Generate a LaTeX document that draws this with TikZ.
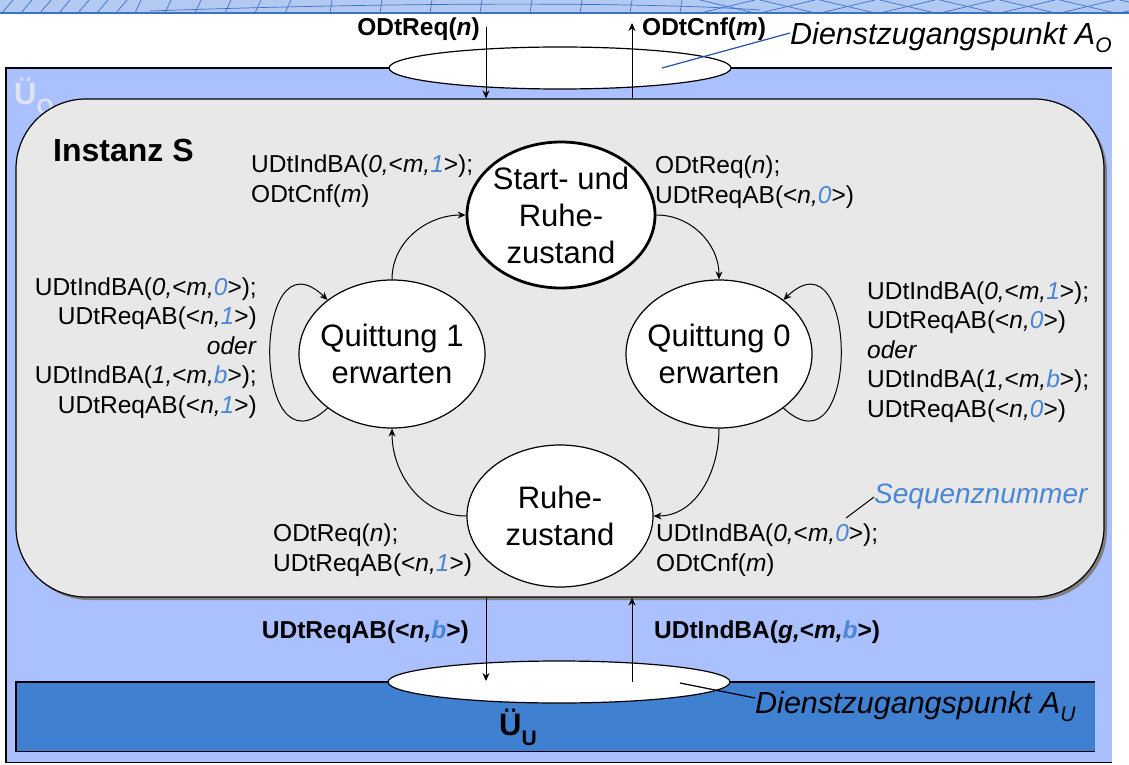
\documentclass[tikz,border=0pt]{standalone}
\usepackage{fontspec}
\setmainfont{Liberation Sans}
\usetikzlibrary{shapes.geometric,arrows.meta,positioning,shadows}

\definecolor{uoblue}{RGB}{170,192,255}
\definecolor{uublue}{RGB}{64,128,208}
\definecolor{instgray}{RGB}{232,232,232}
\definecolor{seqblue}{RGB}{74,134,214}
\definecolor{bandblue}{RGB}{178,202,242}
\definecolor{gridblue}{RGB}{62,112,200}
\definecolor{uolabel}{RGB}{222,228,238}
\definecolor{leaderblue}{RGB}{40,80,170}

\newcommand{\seqnr}[1]{\textcolor{seqblue}{\textit{#1}}}

\tikzset{
  every node/.style={
    font=\fontsize{24.5}{29.5}\selectfont,
    inner sep=0pt
  },
  zustand/.style={
    shape=ellipse,
    draw,
    line width=1.2pt,
    fill=white,
    minimum width=186pt,
    minimum height=148pt
  },
  startzustand/.style={
    zustand,
    line width=2.8pt,
    minimum width=188pt,
    minimum height=146pt
  },
  zustandtext/.style={
    align=center,
    font=\fontsize{31}{37}\selectfont
  },
  instanzbox/.style={
    shape=rectangle,
    rounded corners=70pt,
    draw,
    line width=1.2pt,
    fill=instgray,
    minimum width=1088pt,
    minimum height=498pt,
    drop shadow={shadow xshift=3pt,shadow yshift=-3pt,fill=black!50,opacity=1}
  },
  sap/.style={
    shape=ellipse,
    draw,
    line width=1.2pt,
    fill=white,
    minimum width=342pt,
    minimum height=42pt
  },
  trans/.style={
    -{Stealth[length=8pt,width=7pt]},
    line width=1pt
  },
  iflabel/.style={
    font=\fontsize{24.5}{29.5}\selectfont\bfseries
  },
  saplabel/.style={
    font=\fontsize{30.5}{36}\selectfont\itshape
  },
  schichtlabel/.style={
    font=\fontsize{31}{34}\selectfont\bfseries
  },
  grid/.style={
    draw=gridblue,
    line width=0.7pt
  }
}

\begin{document}
\begin{tikzpicture}[x=1pt,y=1pt]
\useasboundingbox (0,0) rectangle (1129,-765);
\fill[white] (0,0) rectangle (1129,-765);

\fill[bandblue] (0,0) rectangle (1129,-13);
\foreach \x in {2,21,...,120} \draw[grid] (\x,-13) -- ++(11,13);
\foreach \x in {135,165,...,310} \draw[grid] (\x,-13) -- ++(6,13);
\foreach \x in {330,380,...,700} \draw[grid] (\x,-13) -- ++(2,13);
\foreach \x in {700,760,...,1120} {
  \draw[grid] (\x,-13) -- ++(55,13);
  \draw[grid] (\x,0) -- ++(55,-13);
}
\draw[grid] (150,-11) .. controls (400,-2) and (650,-2) .. (760,-10);
\draw[gridblue,line width=1.2pt] (0,-13) -- (1129,-13);

\node[fill=uoblue, minimum width=1106pt, minimum height=694pt, anchor=north west] (uo) at (6,-68) {};
\draw[line width=1.2pt] (uo.north east) -- (uo.north west) -- (uo.south west) -- (uo.south east);
\node[schichtlabel, text=uolabel, anchor=west] (uolabel) at (14,-96) {Ü\raisebox{-10pt}{\fontsize{22}{22}\selectfont O}};

\node[instanzbox] (instanz) at (560,-348) {};
\node[font=\fontsize{32}{36}\selectfont\bfseries, anchor=west] (instlabel) at (53,-150) {Instanz S};

\node[fill=uublue, minimum width=1079pt, minimum height=69pt, anchor=north west] (uu) at (16,-682) {};
\draw[line width=1.2pt] (uu.north east) -- (uu.north west) -- (uu.south west) -- (uu.south east);
\node[schichtlabel] (uulabel) at (518,-727) {Ü\raisebox{-10pt}{\fontsize{21}{21}\selectfont U}};

\node[sap] (ao) at (560,-68) {};
\node[sap] (au) at (559,-682) {};

\node[saplabel, anchor=west] (dao) at (790,-38) {Dienstzugangspunkt A\raisebox{-8pt}{\fontsize{21}{21}\selectfont O}};
\node[saplabel, anchor=west] (dau) at (755,-707) {Dienstzugangspunkt A\raisebox{-8pt}{\fontsize{21}{21}\selectfont U}};
\coordinate (aotip) at (662,-68);
\coordinate (autip) at (680,-683);
\draw[leaderblue, line width=1.2pt] (aotip) -- ([yshift=5pt]dao.west);
\draw[line width=1.2pt] (autip) -- ([yshift=9pt]dau.west);

\node[startzustand, label={[zustandtext]center:Start- und\\Ruhe-\\zustand}] (start) at (561,-215) {};
\node[zustand, label={[zustandtext]center:Quittung 1\\erwarten}] (q1) at (392,-354) {};
\node[zustand, label={[zustandtext]center:Quittung 0\\erwarten}] (q0) at (719,-354) {};
\node[zustand, minimum height=142pt, label={[zustandtext]center:Ruhe-\\zustand}] (ruhe) at (560,-516) {};

\draw[trans] (q1.north) to[out=90,in=180] (start.west);
\draw[trans] (start.east) to[out=0,in=90] (q0.north);
\draw[trans] (q0.south) to[out=-90,in=0] (ruhe.east);
\draw[trans] (ruhe.west) to[out=180,in=-90] (q1.south);
\draw[trans] (q1.220) to[out=223,in=136,looseness=2.5] (q1.140);
\draw[trans] (q0.-40) to[out=-43,in=44,looseness=2.5] (q0.40);

\node[anchor=west, align=left] (lstartl) at (251,-181) {UDtIndBA(\textit{0,}<\textit{m,}\seqnr{1}>);\\ODtCnf(\textit{m})};
\node[anchor=west, align=left] (lstartr) at (655,-182) {ODtReq(\textit{n});\\UDtReqAB(<\textit{n,}\seqnr{0}>)};
\node[anchor=east, align=right] (lq1) at (257,-348) {UDtIndBA(\textit{0,}<\textit{m,}\seqnr{0}>);\\UDtReqAB(<\textit{n,}\seqnr{1}>)\\\textit{oder}\\UDtIndBA(\textit{1,}<\textit{m,}\seqnr{b}>);\\UDtReqAB(<\textit{n,}\seqnr{1}>)};
\node[anchor=west, align=left] (lq0) at (867,-352) {UDtIndBA(\textit{0,}<\textit{m,}\seqnr{1}>);\\UDtReqAB(<\textit{n,}\seqnr{0}>)\\\textit{oder}\\UDtIndBA(\textit{1,}<\textit{m,}\seqnr{b}>);\\UDtReqAB(<\textit{n,}\seqnr{0}>)};
\node[anchor=west, align=left] (lruhel) at (273,-550) {ODtReq(\textit{n});\\UDtReqAB(<\textit{n,}\seqnr{1}>)};
\node[anchor=west, align=left] (lruher) at (656,-550) {UDtIndBA(\textit{0,}<\textit{m,}\seqnr{0}>);\\ODtCnf(\textit{m})};

\node[font=\fontsize{28}{30}\selectfont\itshape, text=seqblue, anchor=west] (seq) at (874,-497) {Sequenznummer};
\coordinate (seqtip) at (846,-518);
\draw[line width=1pt] (seqtip) -- (seq.west);

\node[iflabel, anchor=east] (odtreq) at (480,-29) {ODtReq(\textit{n})};
\node[iflabel, anchor=west] (odtcnf) at (642,-29) {ODtCnf(\textit{m})};
\coordinate (reqtop) at (486,-27);
\coordinate (cnftop) at (632,-23);
\draw[trans] (reqtop) -- (reqtop |- instanz.north);
\draw[trans] (cnftop |- instanz.north) -- (cnftop);

\node[iflabel, anchor=east] (udtreq) at (469,-632) {UDtReqAB(<\textit{n,}\seqnr{b}>)};
\node[iflabel, anchor=west] (udtind) at (654,-632) {UDtIndBA(\textit{g,}<\textit{m,}\seqnr{b}>)};
\coordinate (reqbot) at (486,-681);
\coordinate (indbot) at (632,-682);
\draw[trans] (reqbot |- instanz.south) -- (reqbot);
\draw[trans] (indbot) -- (indbot |- instanz.south);

\end{tikzpicture}
\end{document}
